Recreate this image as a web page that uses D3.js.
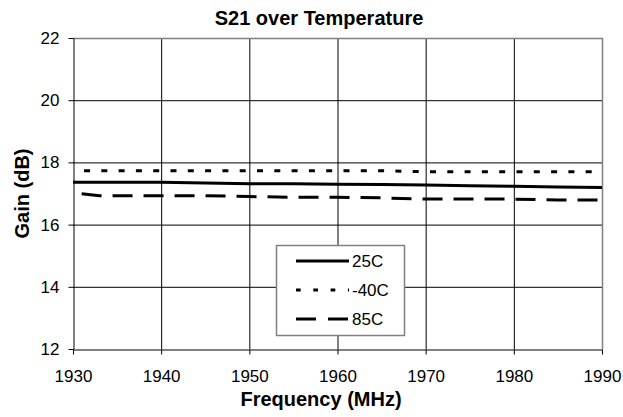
<!DOCTYPE html>
<meta charset="utf-8">
<style>

body {
  margin: 0;
  background: #fff;
}

text {
  font-family: Arial, "Liberation Sans", sans-serif;
}

</style>
<body>
<script src="https://d3js.org/d3.v7.min.js"></script>
<script>

var freqs = [1930, 1933, 1935, 1940, 1945, 1950, 1955, 1960, 1965, 1970, 1975, 1980, 1985, 1990];

var gain25 = [17.36, 17.36, 17.36, 17.36, 17.34, 17.31, 17.31, 17.30, 17.29, 17.27, 17.25, 17.23, 17.21, 17.19],
    gainM40 = [17.73, 17.73, 17.73, 17.73, 17.73, 17.73, 17.73, 17.73, 17.73, 17.70, 17.70, 17.70, 17.70, 17.70],
    gain85 = [17.02, 16.93, 16.93, 16.93, 16.93, 16.90, 16.88, 16.88, 16.86, 16.82, 16.82, 16.82, 16.79, 16.79];

var seriesNames = ["25C", "-40C", "85C"],
    seriesDash = [null, "6,11.3", "20,11"],
    seriesOffset = [0, 6.3, 22.3],
    legendDash = [null, "4.7,12.6", "20,12"];

var xTicks = [1930, 1940, 1950, 1960, 1970, 1980, 1990],
    yTicks = [12, 14, 16, 18, 20, 22];

var width = 623,
    height = 417,
    x0 = 73,
    x1 = 602,
    y0 = 38,
    y1 = 349;

var svg = d3.select("body").append("svg")
    .attr("width", width)
    .attr("height", height);

var x = d3.scaleLinear()
    .domain([1930, 1990])
    .range([x0, x1]);

var y = d3.scaleLinear()
    .domain([12, 22])
    .range([y1, y0]);

// grid
svg.append("g").selectAll("line")
    .data(yTicks.slice(1, -1))
  .enter().append("line")
    .attr("x1", x0)
    .attr("x2", x1)
    .attr("y1", function(d) { return y(d) + 0.5; })
    .attr("y2", function(d) { return y(d) + 0.5; })
    .attr("stroke", "#000");

svg.append("g").selectAll("line")
    .data(xTicks.slice(1, -1))
  .enter().append("line")
    .attr("x1", function(d) { return x(d) + 0.5; })
    .attr("x2", function(d) { return x(d) + 0.5; })
    .attr("y1", y0)
    .attr("y2", y1)
    .attr("stroke", "#000");

// gray frame top / right
svg.append("path")
    .attr("d", "M" + x0 + "," + (y0 + 0.5) + "H" + (x1 + 0.5) + "V" + y1)
    .attr("fill", "none")
    .attr("stroke", "#808080")
    .attr("stroke-width", 1.5);

var xAxis = svg.append("g")
    .attr("transform", "translate(0," + (y1 + 0.5) + ")")
    .call(d3.axisBottom(x).tickValues(xTicks).tickFormat(d3.format("d")).tickSize(5).tickSizeOuter(0).tickPadding(15));

var yAxis = svg.append("g")
    .attr("transform", "translate(" + (x0 + 0.5) + ",0)")
    .call(d3.axisLeft(y).tickValues(yTicks).tickSize(5).tickSizeOuter(0).tickPadding(9));

[xAxis, yAxis].forEach(function(a) {
  a.selectAll("path, line").attr("stroke", "#000");
  a.selectAll("text")
      .attr("fill", "#000")
      .style("font-family", "Arial, 'Liberation Sans', sans-serif")
      .style("font-size", "17px");
});

// series
var line = d3.line()
    .x(function(d, i) { return x(freqs[i]); })
    .y(function(d) { return y(d); });

[gain25, gainM40, gain85].forEach(function(s, i) {
  svg.append("path")
      .datum(s)
      .attr("fill", "none")
      .attr("stroke", "#000")
      .attr("stroke-width", 3)
      .attr("stroke-dasharray", seriesDash[i])
      .attr("stroke-dashoffset", seriesOffset[i])
      .attr("d", line);
});

// legend
var legend = svg.append("g")
    .attr("transform", "translate(276,245)");

legend.append("rect")
    .attr("x", 0.5)
    .attr("y", 0.5)
    .attr("width", 128)
    .attr("height", 90)
    .attr("fill", "#fff")
    .attr("stroke", "#808080")
    .attr("stroke-width", 1.5);

seriesNames.forEach(function(name, i) {
  var ly = 16 + i * 29;
  legend.append("line")
      .attr("x1", 20)
      .attr("x2", 73)
      .attr("y1", ly)
      .attr("y2", ly)
      .attr("stroke", "#000")
      .attr("stroke-width", 3)
      .attr("stroke-dasharray", legendDash[i]);
  legend.append("text")
      .attr("x", 76)
      .attr("y", ly)
      .attr("dy", "0.35em")
      .style("font-size", "17px")
      .text(name);
});

// titles
svg.append("text")
    .attr("x", 319)
    .attr("y", 25)
    .attr("text-anchor", "middle")
    .style("font-size", "20px")
    .style("font-weight", "bold")
    .text("S21 over Temperature");

svg.append("text")
    .attr("x", 321)
    .attr("y", 406)
    .attr("text-anchor", "middle")
    .style("font-size", "20px")
    .style("font-weight", "bold")
    .text("Frequency (MHz)");

svg.append("text")
    .attr("transform", "translate(29," + (y0 + y1) / 2 + ")rotate(-90)")
    .attr("text-anchor", "middle")
    .style("font-size", "20px")
    .style("font-weight", "bold")
    .text("Gain (dB)");

</script>
